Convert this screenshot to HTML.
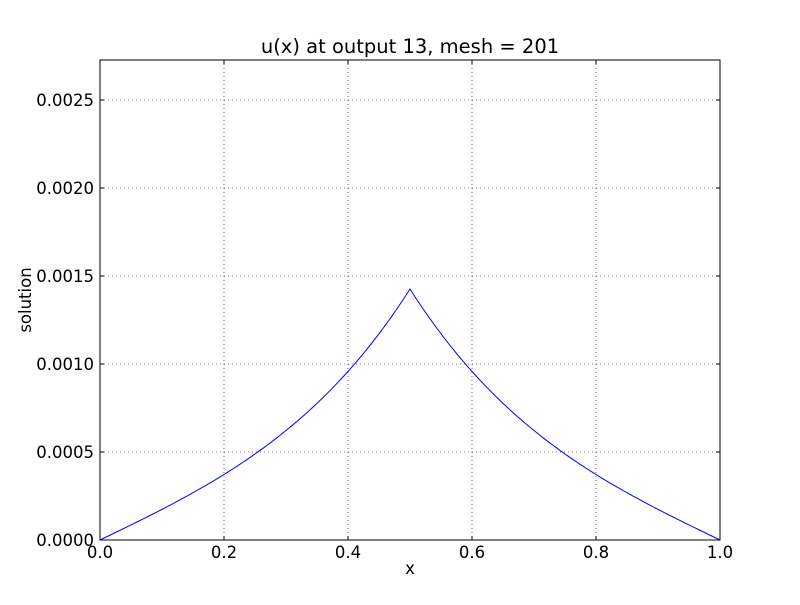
<!DOCTYPE html>
<html><head><meta charset="utf-8"><style>
body{margin:0;background:#fff}
text{font-family:"DejaVu Sans","Liberation Sans",sans-serif;fill:#000}
</style></head><body>
<svg id="s" width="800" height="600" xmlns="http://www.w3.org/2000/svg">
<rect width="800" height="600" fill="#fff"/>
<g stroke="#000" stroke-width="0.6" stroke-dasharray="1,3">
<line x1="224" y1="60" x2="224" y2="540"/><line x1="348" y1="60" x2="348" y2="540"/>
<line x1="472" y1="60" x2="472" y2="540"/><line x1="596" y1="60" x2="596" y2="540"/>
<line x1="100" y1="452" x2="720" y2="452"/><line x1="100" y1="364" x2="720" y2="364"/>
<line x1="100" y1="276" x2="720" y2="276"/><line x1="100" y1="188" x2="720" y2="188"/>
<line x1="100" y1="100" x2="720" y2="100"/>
</g>
<path id="curve" fill="none" stroke="#0000ff" stroke-width="1"/>
<rect x="100" y="60" width="620" height="480" fill="none" stroke="#000" stroke-width="1"/>
<g stroke="#000" stroke-width="1">
<line x1="100" y1="540" x2="100" y2="536"/><line x1="224" y1="540" x2="224" y2="536"/><line x1="348" y1="540" x2="348" y2="536"/><line x1="472" y1="540" x2="472" y2="536"/><line x1="596" y1="540" x2="596" y2="536"/><line x1="720" y1="540" x2="720" y2="536"/>
<line x1="100" y1="60" x2="100" y2="64"/><line x1="224" y1="60" x2="224" y2="64"/><line x1="348" y1="60" x2="348" y2="64"/><line x1="472" y1="60" x2="472" y2="64"/><line x1="596" y1="60" x2="596" y2="64"/><line x1="720" y1="60" x2="720" y2="64"/>
<line x1="100" y1="540" x2="104" y2="540"/><line x1="100" y1="452" x2="104" y2="452"/><line x1="100" y1="364" x2="104" y2="364"/><line x1="100" y1="276" x2="104" y2="276"/><line x1="100" y1="188" x2="104" y2="188"/><line x1="100" y1="100" x2="104" y2="100"/>
<line x1="720" y1="540" x2="716" y2="540"/><line x1="720" y1="452" x2="716" y2="452"/><line x1="720" y1="364" x2="716" y2="364"/><line x1="720" y1="276" x2="716" y2="276"/><line x1="720" y1="188" x2="716" y2="188"/><line x1="720" y1="100" x2="716" y2="100"/>
</g>
<g font-size="16.5" text-anchor="middle">
<text x="100" y="558">0.0</text><text x="224" y="558">0.2</text><text x="348" y="558">0.4</text><text x="472" y="558">0.6</text><text x="596" y="558">0.8</text><text x="720" y="558">1.0</text>
</g>
<g font-size="16.5" text-anchor="end">
<text x="94" y="546">0.0000</text><text x="94" y="458">0.0005</text><text x="94" y="370">0.0010</text><text x="94" y="282">0.0015</text><text x="94" y="194">0.0020</text><text x="94" y="106">0.0025</text>
</g>
<text x="410" y="574" font-size="16.5" text-anchor="middle">x</text>
<text transform="translate(31,300) rotate(-90)" font-size="16.5" text-anchor="middle">solution</text>
<text x="410" y="53" font-size="19.5" text-anchor="middle">u(x) at output 13, mesh = 201</text>
</svg>
<script>
var k=3.7,d="",s=Math.sinh(k*0.5);
for(var i=0;i<=200;i++){var x=i/200;var r=Math.sinh(k*Math.min(x,1-x))/s;
d+=(i?"L":"M")+(100+620*x).toFixed(2)+","+(540-251*r).toFixed(2);}
document.getElementById("curve").setAttribute("d",d);
</script>
</body></html>
